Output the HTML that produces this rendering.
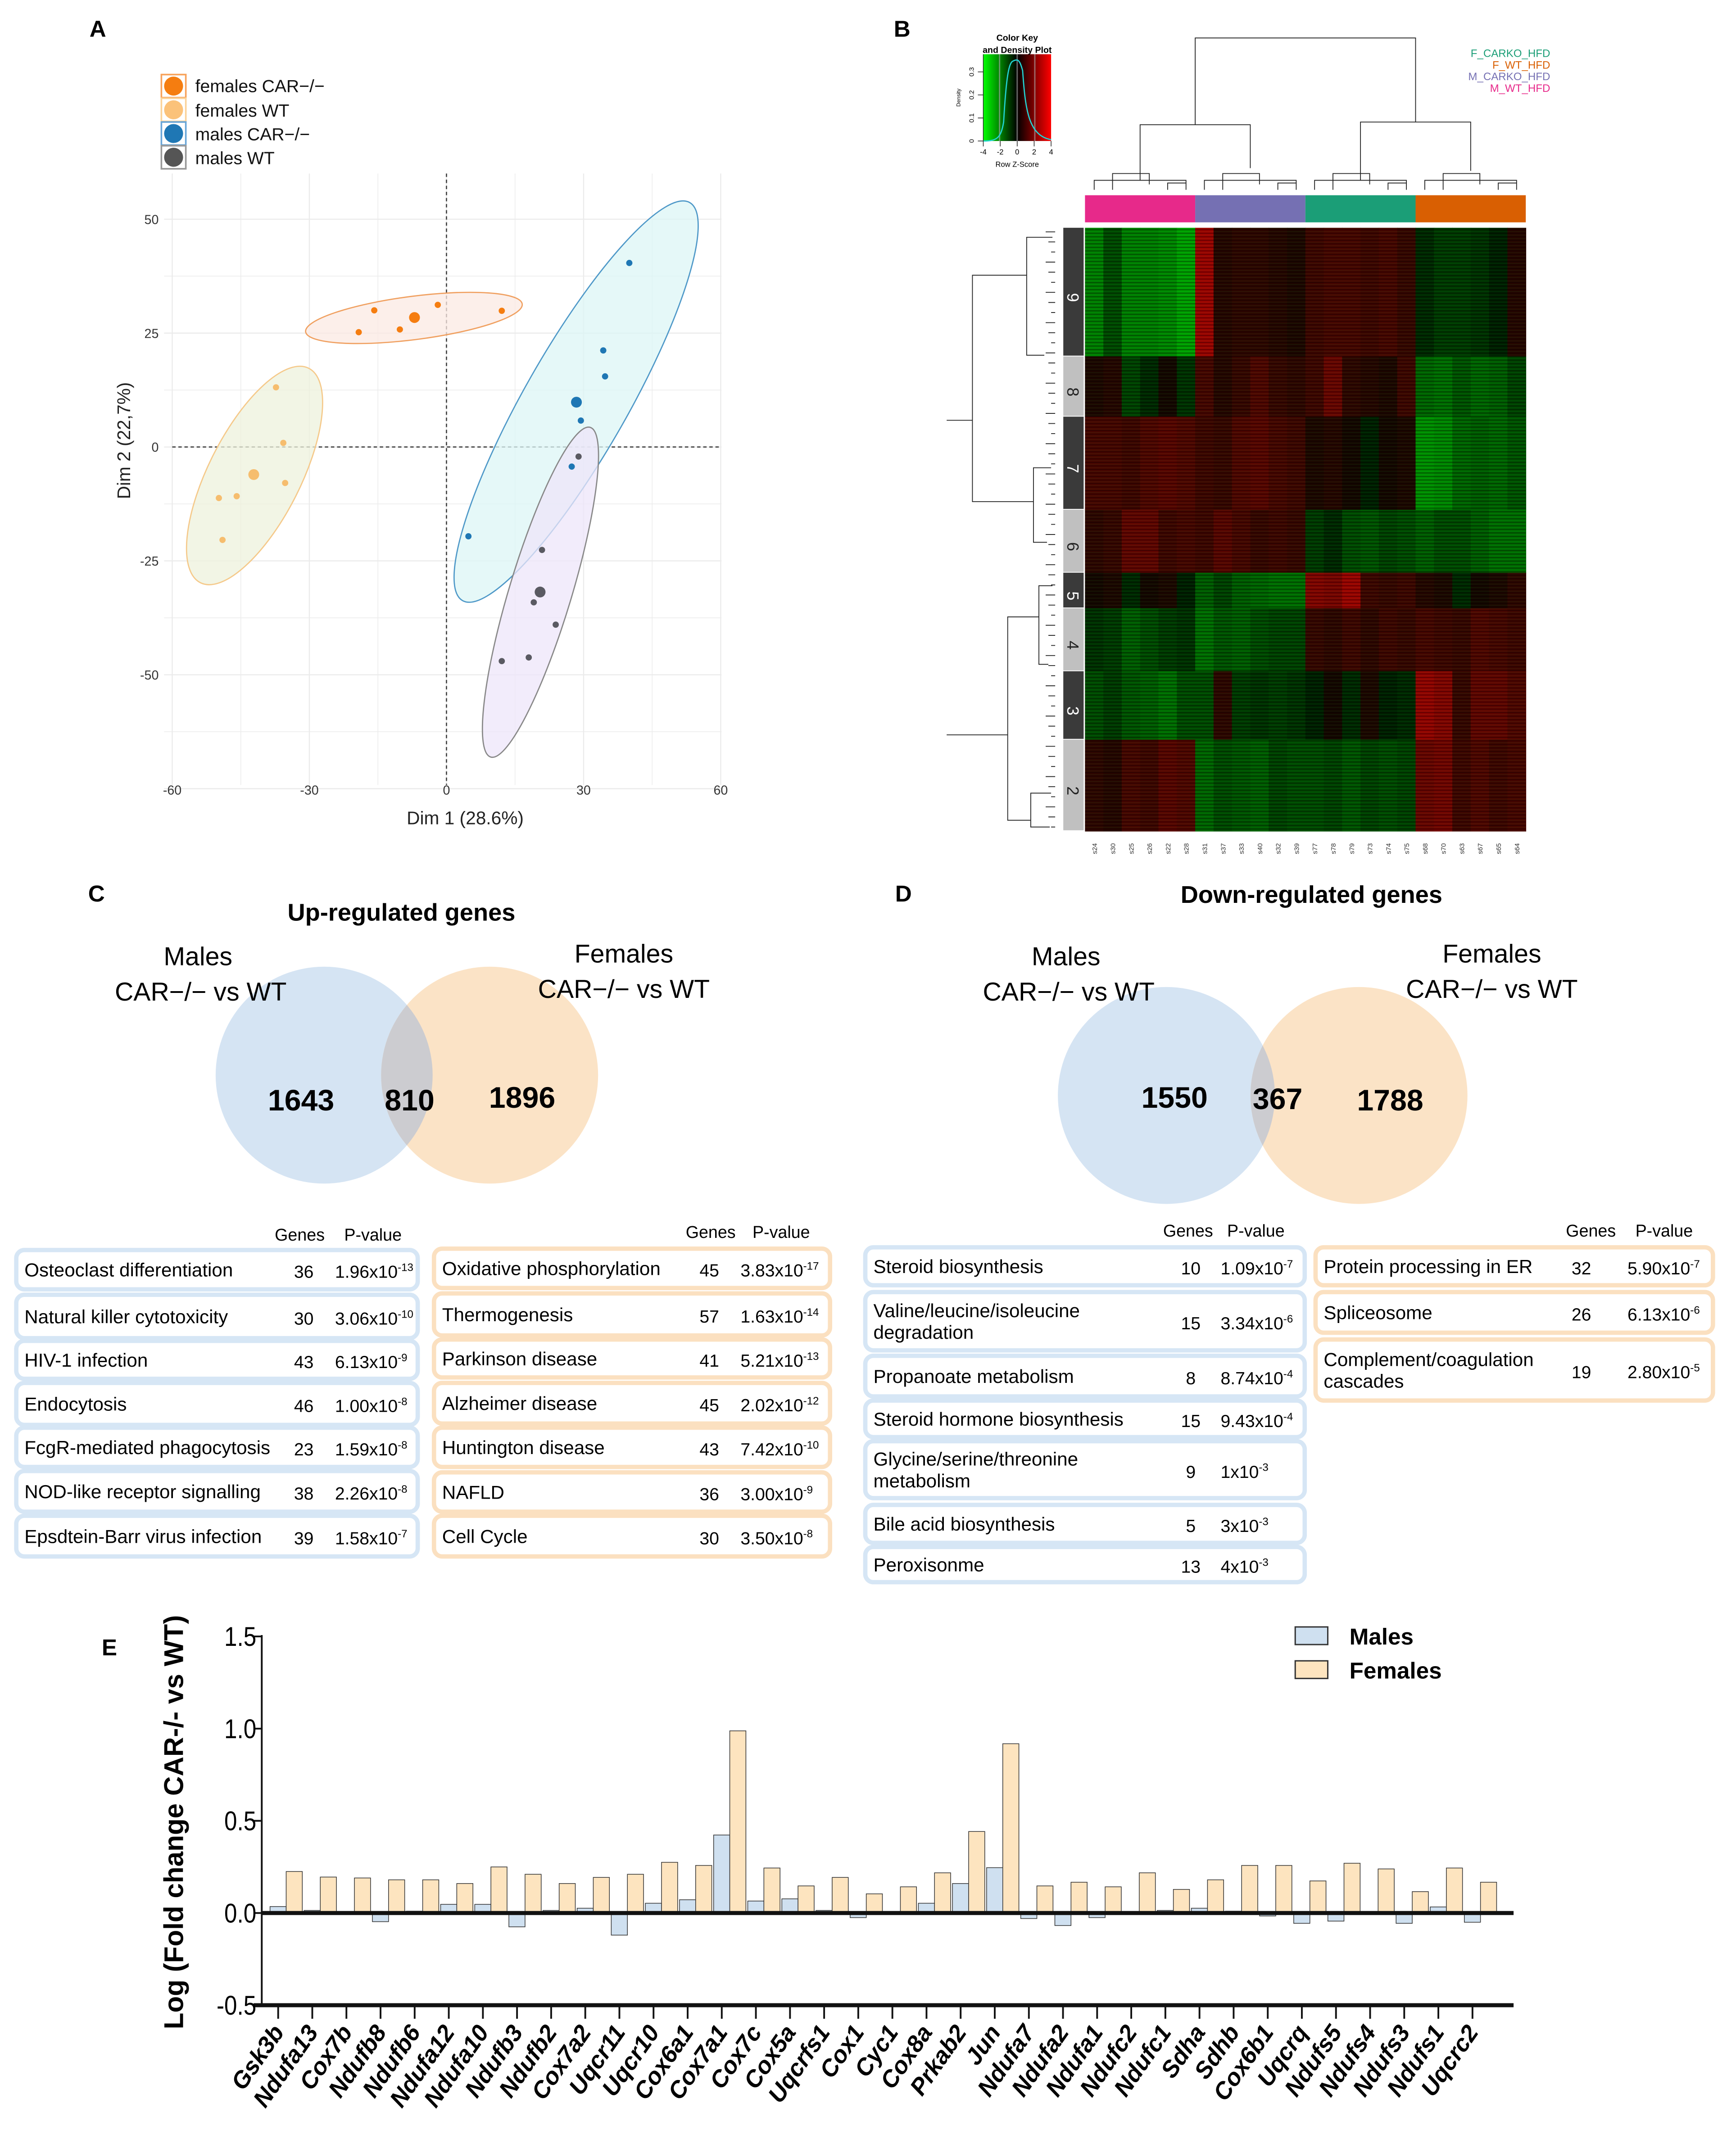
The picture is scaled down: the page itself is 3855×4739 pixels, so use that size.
<!DOCTYPE html>
<html><head><meta charset="utf-8"><style>
html,body{margin:0;padding:0;background:#fff;}
svg{display:block;font-family:"Liberation Sans",sans-serif;}
</style></head><body>
<svg id="fig" xmlns="http://www.w3.org/2000/svg" width="3855" height="4739" viewBox="0 0 1280 1574" preserveAspectRatio="none">
<defs>
<pattern id="stripes" width="4" height="2.6" patternUnits="userSpaceOnUse">
<rect x="0" y="0" width="4" height="0.9" fill="#000" opacity="0.35"/>
<rect x="0" y="1.6" width="4" height="0.5" fill="#0a3" opacity="0.12"/>
</pattern>
<linearGradient id="keygrad" x1="0" x2="1" y1="0" y2="0">
<stop offset="0" stop-color="#00ff00"/><stop offset="0.5" stop-color="#000"/><stop offset="1" stop-color="#ff0000"/>
</linearGradient>
<clipPath id="clipUpL"><circle cx="239" cy="793" r="80"/></clipPath>
<clipPath id="clipDnL"><circle cx="860" cy="808" r="80"/></clipPath>
</defs>
<g font-weight="bold" font-size="17">
<text x="66" y="27">A</text>
<text x="659" y="27">B</text>
<text x="65" y="665">C</text>
<text x="660" y="665">D</text>
<text x="75" y="1221">E</text>
</g>

<g font-size="13" fill="#111">
<rect x="119" y="55" width="18" height="17" fill="none" stroke="#f7a35c" stroke-width="1.2"/>
<circle cx="128" cy="63.5" r="7" fill="#f57d10"/>
<text x="144" y="68">females CAR−/−</text>
<rect x="119" y="72.5" width="18" height="17" fill="none" stroke="#fbd39a" stroke-width="1.2"/>
<circle cx="128" cy="81" r="7" fill="#fbc27a"/>
<text x="144" y="86">females WT</text>
<rect x="119" y="90" width="18" height="17" fill="none" stroke="#6aa6d8" stroke-width="1.2"/>
<circle cx="128" cy="98.5" r="7" fill="#1f77b4"/>
<text x="144" y="103.5">males CAR−/−</text>
<rect x="119" y="107.5" width="18" height="17" fill="none" stroke="#999" stroke-width="1.2"/>
<circle cx="128" cy="116" r="7" fill="#555"/>
<text x="144" y="121">males WT</text>
</g>
<g id="pca"></g>
<g id="heat"></g>

<g>
<circle cx="239" cy="793" r="80" fill="#d5e4f3"/>
<circle cx="361" cy="793" r="80" fill="#fbe3c6"/>
<circle cx="361" cy="793" r="80" fill="#ccccd0" clip-path="url(#clipUpL)"/>
<text x="296" y="679" text-anchor="middle" font-weight="bold" font-size="18">Up-regulated genes</text>
<text x="146" y="712" text-anchor="middle" font-size="19">Males</text>
<text x="148" y="738" text-anchor="middle" font-size="19">CAR−/− vs WT</text>
<text x="460" y="710" text-anchor="middle" font-size="19">Females</text>
<text x="460" y="736" text-anchor="middle" font-size="19">CAR−/− vs WT</text>
<text x="222" y="819" text-anchor="middle" font-weight="bold" font-size="22">1643</text>
<text x="302" y="819" text-anchor="middle" font-weight="bold" font-size="22">810</text>
<text x="385" y="817" text-anchor="middle" font-weight="bold" font-size="22">1896</text>
</g>
<g>
<circle cx="860" cy="808" r="80" fill="#d5e4f3"/>
<circle cx="1002" cy="808" r="80" fill="#fbe3c6"/>
<circle cx="1002" cy="808" r="80" fill="#ccccd0" clip-path="url(#clipDnL)"/>
<text x="967" y="666" text-anchor="middle" font-weight="bold" font-size="18">Down-regulated genes</text>
<text x="786" y="712" text-anchor="middle" font-size="19">Males</text>
<text x="788" y="738" text-anchor="middle" font-size="19">CAR−/− vs WT</text>
<text x="1100" y="710" text-anchor="middle" font-size="19">Females</text>
<text x="1100" y="736" text-anchor="middle" font-size="19">CAR−/− vs WT</text>
<text x="866" y="817" text-anchor="middle" font-weight="bold" font-size="22">1550</text>
<text x="942" y="818" text-anchor="middle" font-weight="bold" font-size="22">367</text>
<text x="1025" y="819" text-anchor="middle" font-weight="bold" font-size="22">1788</text>
</g>
<g id="tables" font-size="14"></g>
<g id="bars"></g>

<script>
const NS='http://www.w3.org/2000/svg';
function mk(tag,attrs,parent){const e=document.createElementNS(NS,tag);for(const k in attrs)e.setAttribute(k,attrs[k]);parent.appendChild(e);return e;}

const femCarX=[-19.2,-15.8,-10.2,-1.9,12.1];
const femCarY=[25.2,30.0,25.8,31.2,29.9];
const femWtX=[-37.3,-35.7,-35.3,-49.8,-45.9,-49.0];
const femWtY=[13.1,0.9,-7.9,-11.2,-10.8,-20.4];
const maleCarX=[40.0,34.3,34.7,29.4,27.4,4.8];
const maleCarY=[40.4,21.2,15.5,5.8,-4.3,-19.6];
const maleWtX=[28.9,20.9,19.1,23.9,18.0,12.1];
const maleWtY=[-2.1,-22.6,-34.1,-39.0,-46.2,-47.0];
const pcaXTicks=[-60,-30,0,30,60];
const pcaYTicks=[50,25,0,-25,-50];
function px(v){return 329.2+3.37*v;}
function py(v){return 329.7-3.36*v;}
(function(){
const g=document.getElementById('pca');
for(let v=-60;v<=60;v+=15){mk('line',{x1:px(v),x2:px(v),y1:128,y2:579,stroke:'#ebebeb','stroke-width':v%30===0?0.8:0.5},g);}
for(let v=-75;v<=50;v+=12.5){mk('line',{x1:121,x2:532,y1:py(v),y2:py(v),stroke:'#ebebeb','stroke-width':v%25===0?0.8:0.5},g);}
mk('line',{x1:px(0),x2:px(0),y1:128,y2:579,stroke:'#444','stroke-width':0.9,'stroke-dasharray':'2.5,2'},g);
mk('line',{x1:127,x2:532,y1:py(0),y2:py(0),stroke:'#444','stroke-width':0.9,'stroke-dasharray':'2.5,2'},g);
const ell=[[305.2,234.5,80.5,16,-7.3,'#fbe9e3','#f0a060'],[187.7,350.7,88.6,34,-63.2,'#eef2dc','#f5c98a'],[424.8,296.2,169,38,-60.3,'#dcf5f5','#4e98c8'],[398.5,436.8,127,23,-73.2,'#ede6fa','#888']];
const en=['ellipse-females-car','ellipse-females-wt','ellipse-males-car','ellipse-males-wt'];
ell.forEach((e,i)=>{const el=mk('ellipse',{cx:e[0],cy:e[1],rx:e[2],ry:e[3],transform:`rotate(${e[4]} ${e[0]} ${e[1]})`,fill:e[5],'fill-opacity':0.75,stroke:e[6],'stroke-width':0.9},g);

});
const groups=[[femCarX,femCarY,'#f57d10','females-car'],[femWtX,femWtY,'#f6bd6e','females-wt'],[maleCarX,maleCarY,'#1f77b4','males-car'],[maleWtX,maleWtY,'#5a5a62','males-wt']];
groups.forEach(gr=>{let sx=0,sy=0;gr[0].forEach((x,i)=>{sx+=x;sy+=gr[1][i];
const c=mk('circle',{cx:px(x),cy:py(gr[1][i]),r:2.3,fill:gr[2]},g);

});
const n=gr[0].length;const c=mk('circle',{cx:px(sx/n),cy:py(sy/n),r:4,fill:gr[2]},g);

});
pcaXTicks.forEach(v=>{const t=mk('text',{x:px(v),y:586,'text-anchor':'middle','font-size':9.5,fill:'#333'},g);t.textContent=v;

});
pcaYTicks.forEach(v=>{const t=mk('text',{x:117,y:py(v)+3.5,'text-anchor':'end','font-size':9.5,fill:'#333'},g);t.textContent=v;

});
let t=mk('text',{x:343,y:608,'text-anchor':'middle','font-size':13.5,fill:'#222'},g);t.textContent='Dim 1 (28.6%)';


t=mk('text',{x:0,y:0,'text-anchor':'middle','font-size':13.5,fill:'#222',transform:'translate(96,325) rotate(-90)'},g);t.textContent='Dim 2 (22,7%)';


})();

const samples=['s24','s30','s25','s26','s22','s28','s31','s37','s33','s40','s32','s39','s77','s78','s79','s73','s74','s75','s68','s70','s63','s67','s65','s64'];
const clusterLabels=['9','8','7','6','5','4','3','2'];
const clusterSizes=[235,110,170,115,65,115,125,167];
const band9=[-1.2,-0.6,-1.2,-1.2,-1.3,-1.6,1.6,0.2,0.3,0.3,0.2,0.1,0.5,0.6,0.6,0.5,0.6,0.4,-0.2,-0.4,-0.4,-0.3,-0.1,0.2];
const band8=[0.1,0.2,-0.5,-0.2,0.0,-0.3,0.6,0.2,0.4,0.7,0.4,0.3,0.5,1.0,0.3,0.2,0.1,0.5,-0.9,-1.0,-0.7,-0.9,-0.8,-0.5];
const band7=[0.6,0.6,0.5,0.7,0.8,0.7,0.5,0.4,0.7,0.8,0.6,0.5,0.1,0.2,0.0,-0.1,0.0,0.1,-1.4,-1.3,-0.9,-0.8,-0.9,-0.7];
const band6=[0.3,0.4,0.9,0.9,0.5,0.6,0.5,0.8,0.6,0.4,0.5,0.4,-0.4,-0.2,-0.6,-0.7,-0.5,-0.6,-0.8,-0.6,-0.6,-0.8,-1.0,-1.0];
const band5=[0.0,0.1,-0.2,0.0,0.1,-0.1,-0.8,-0.5,-0.8,-0.9,-1.0,-1.0,1.3,1.2,1.6,0.5,0.4,0.5,0.2,0.1,-0.2,0.0,0.1,0.3];
const band4=[-0.3,-0.4,-0.8,-0.6,-0.4,-0.3,-1.0,-0.7,-0.8,-0.6,-0.5,-0.5,0.4,0.3,0.5,0.3,0.5,0.4,0.6,0.5,0.4,0.7,0.6,0.5];
const band3=[-0.6,-0.4,-0.7,-0.8,-1.0,-0.6,-0.6,0.3,-0.4,-0.3,-0.4,-0.3,-0.1,0.0,-0.2,0.1,-0.1,-0.2,1.5,1.3,0.4,0.9,0.9,0.7];
const band2=[0.3,0.2,0.6,0.5,0.8,0.7,-0.9,-0.6,-0.7,-0.8,-0.5,-0.6,-0.6,-0.5,-0.7,-0.5,-0.6,-0.5,1.0,1.1,0.5,0.7,0.5,0.6];
const bands=[band9,band8,band7,band6,band5,band4,band3,band2];
const groupNames=['M_WT_HFD','M_CARKO_HFD','F_CARKO_HFD','F_WT_HFD'];
const groupColors=['#e7298a','#7570b3','#1b9e77','#d95f02'];
function zcol(z){const t=Math.min(1,Math.abs(z)/1.8);const v=Math.round(22+160*t);return z>=0?`rgb(${v},${Math.round(6*(1-t))},0)`:`rgb(0,${v},0)`;}
(function(){
const g=document.getElementById('heat');
const X0=800,X1=1125,Y0=168,Y1=613;const cw=(X1-X0)/samples.length;
const total=clusterSizes.reduce((a,b)=>a+b,0);
let y=Y0;
bands.forEach((b,bi)=>{const h=clusterSizes[bi]/total*(Y1-Y0);
b.forEach((z,ci)=>{const r=mk('rect',{x:X0+ci*cw,y:y,width:cw+0.3,height:h+0.3,fill:zcol(z)},g);

});
const sb=mk('rect',{x:784,y:y,width:15,height:h-0.6,fill:bi%2===0?'#3a3a3a':'#c0c0c0'},g);


const lt=mk('text',{x:0,y:0,'font-size':12,fill:bi%2===0?'#fff':'#222','text-anchor':'middle',transform:`translate(787,${y+h/2+4}) rotate(90)`},g);lt.textContent=clusterLabels[bi];


y+=h;});
mk('rect',{x:X0,y:Y0,width:X1-X0,height:Y1-Y0,fill:'url(#stripes)'},g);
groupColors.forEach((c,i)=>{const r=mk('rect',{x:X0+i*6*cw,y:144,width:6*cw,height:20,fill:c},g);

});
samples.forEach((s,i)=>{const t=mk('text',{x:0,y:0,'font-size':5,fill:'#333',transform:`translate(${X0+(i+0.5)*cw+2},630) rotate(-90)`},g);t.textContent=s;

});
const cx=i=>X0+(i+0.5)*cw;
let d='';
for(let gi=0;gi<4;gi++){const a=cx(gi*6),b=cx(gi*6+5);
d+=`M${a} 140V133H${b}V140 M${cx(gi*6+1)} 140V128H${cx(gi*6+3)}V136 M${cx(gi*6+4)} 140V135H${cx(gi*6+5)}`;}
const m0=(cx(0)+cx(5))/2,m1=(cx(6)+cx(11))/2,m2=(cx(12)+cx(17))/2,m3=(cx(18)+cx(23))/2;
d+=`M${m0} 133V92H${m1}V124 M${m2} 133V90H${m3}V126 M${(m0+m1)/2} 92V28H${(m2+m3)/2}V90`;
mk('path',{d:d,fill:'none',stroke:'#222','stroke-width':0.6},g);
let ld='M698 310H717V203H757 M717 310V370H762 M698 542H743V455H766 M743 542V605H760 M757 203V175H776 M757 203V262H770 M762 370V345H775 M762 370V400H772 M766 455V432H776 M766 455V490H773 M760 605V585H775 M760 605V610H774';
for(let i=0;i<60;i++){const yy=Y0+3+i*(Y1-Y0-6)/59;ld+=`M${771+(i%3)*2} ${yy}H778`;}
mk('path',{d:ld,fill:'none',stroke:'#222','stroke-width':0.6},g);
mk('rect',{x:725,y:40,width:50,height:64,fill:'url(#keygrad)'},g);
mk('path',{d:'M737 40V104M750 40V104M763 40V104',stroke:'#aaa','stroke-width':1,opacity:0.6},g);
mk('path',{d:'M725 104C735 104 738 102 740 90C742 55 744 46 747 45C751 43 752 45 754 52C756 80 758 100 775 103',fill:'none',stroke:'#22d3d3','stroke-width':0.9},g);
mk('path',{d:'M725 104V108M737.5 104V108M750 104V108M762.5 104V108M775 104V108M725 104V40M725 104H721M725 87H721M725 70H721M725 53H721',stroke:'#222','stroke-width':0.5,fill:'none'},g);
[['-4',725],['-2',737.5],['0',750],['2',762.5],['4',775]].forEach(k=>{const t=mk('text',{x:k[1],y:114,'font-size':5.5,'text-anchor':'middle'},g);t.textContent=k[0];});
let t=mk('text',{x:750,y:123,'font-size':5.5,'text-anchor':'middle'},g);t.textContent='Row Z-Score';
t=mk('text',{x:750,y:30,'font-size':6.5,'font-weight':'bold','text-anchor':'middle'},g);t.textContent='Color Key';


t=mk('text',{x:750,y:39,'font-size':6.5,'font-weight':'bold','text-anchor':'middle'},g);t.textContent='and Density Plot';
[['0',104],['0.1',87],['0.2',70],['0.3',53]].forEach(k=>{const q=mk('text',{x:0,y:0,'font-size':5,'text-anchor':'middle',transform:`translate(718,${k[1]}) rotate(-90)`},g);q.textContent=k[0];});
t=mk('text',{x:0,y:0,'font-size':4,'text-anchor':'middle',transform:'translate(708,72) rotate(-90)'},g);t.textContent='Density';
const legOrder=[2,3,1,0];
legOrder.forEach((gi,i)=>{const q=mk('text',{x:1143,y:42+i*8.6,'font-size':8,'text-anchor':'end',fill:groupColors[gi]},g);q.textContent=groupNames[gi];

});
})();

const upMalesPath=['Osteoclast differentiation','Natural killer cytotoxicity','HIV-1 infection','Endocytosis','FcgR-mediated phagocytosis','NOD-like receptor signalling','Epsdtein-Barr virus infection'];
const upMalesGenes=[36,30,43,46,23,38,39];
const upMalesP=[['1.96x10','-13'],['3.06x10','-10'],['6.13x10','-9'],['1.00x10','-8'],['1.59x10','-8'],['2.26x10','-8'],['1.58x10','-7']];
const upFemPath=['Oxidative phosphorylation','Thermogenesis','Parkinson disease','Alzheimer disease','Huntington disease','NAFLD','Cell Cycle'];
const upFemGenes=[45,57,41,45,43,36,30];
const upFemP=[['3.83x10','-17'],['1.63x10','-14'],['5.21x10','-13'],['2.02x10','-12'],['7.42x10','-10'],['3.00x10','-9'],['3.50x10','-8']];
const dnMalesPath=[['Steroid biosynthesis'],['Valine/leucine/isoleucine','degradation'],['Propanoate metabolism'],['Steroid hormone biosynthesis'],['Glycine/serine/threonine','metabolism'],['Bile acid biosynthesis'],['Peroxisonme']];
const dnMalesGenes=[10,15,8,15,9,5,13];
const dnMalesP=[['1.09x10','-7'],['3.34x10','-6'],['8.74x10','-4'],['9.43x10','-4'],['1x10','-3'],['3x10','-3'],['4x10','-3']];
const dnFemPath=[['Protein processing in ER'],['Spliceosome'],['Complement/coagulation','cascades']];
const dnFemGenes=[32,26,19];
const dnFemP=[['5.90x10','-7'],['6.13x10','-6'],['2.80x10','-5']];
(function(){
const g=document.getElementById('tables');
function table(x0,x1,rows,paths,genes,ps,col,gx,pxp,hy,hx1,hx2,name){
 let h=mk('text',{x:hx1,y:hy,'font-size':12.5,'text-anchor':'middle'},g);h.textContent='Genes';
 h=mk('text',{x:hx2,y:hy,'font-size':12.5,'text-anchor':'middle'},g);h.textContent='P-value';
 rows.forEach((r,i)=>{const b=mk('rect',{x:x0,y:r[0],width:x1-x0,height:r[1]-r[0],rx:6,fill:'#fff',stroke:col,'stroke-width':3.2},g);
 
 
 const p=Array.isArray(paths[i])?paths[i]:[paths[i]];const mid=(r[0]+r[1])/2;
 p.forEach((s,k)=>{const t=mk('text',{x:x0+6,y:mid+5+(p.length>1?(k-0.5)*16:0),'font-size':14},g);t.textContent=s;});
 let t=mk('text',{x:gx,y:mid+6,'font-size':13,'text-anchor':'middle'},g);t.textContent=genes[i];
 t=mk('text',{x:pxp,y:mid+6,'font-size':13},g);t.textContent=ps[i][0];
 const ts=mk('tspan',{dy:-5,'font-size':8},t);ts.textContent=ps[i][1];});}
table(12,308,[[922,951],[955,987],[989,1017],[1020,1051],[1053,1082],[1085,1115],[1118,1148]],upMalesPath,upMalesGenes,upMalesP,'#d6e6f5',224,247,915,221,275,'up-males');
table(320,612,[[921,950],[954,985],[988,1016],[1020,1050],[1053,1082],[1086,1115],[1118,1148]],upFemPath,upFemGenes,upFemP,'#fbe0c0',523,546,913,524,576,'up-females');
table(638,962,[[920,948],[953,996],[1000,1030],[1033,1060],[1063,1105],[1110,1138],[1141,1167]],dnMalesPath,dnMalesGenes,dnMalesP,'#d6e6f5',878,900,912,876,926,'down-males');
table(970,1263,[[920,948],[953,983],[988,1033]],dnFemPath,dnFemGenes,dnFemP,'#fbe0c0',1166,1200,912,1173,1227,'down-females');
})();

const genes=['Gsk3b','Ndufa13','Cox7b','Ndufb8','Ndufb6','Ndufa12','Ndufa10','Ndufb3','Ndufb2','Cox7a2','Uqcr11','Uqcr10','Cox6a1','Cox7a1','Cox7c','Cox5a','Uqcrfs1','Cox1','Cyc1','Cox8a','Prkab2','Jun','Ndufa7','Ndufa2','Ndufa1','Ndufc2','Ndufc1','Sdha','Sdhb','Cox6b1','Uqcrq','Ndufs5','Ndufs4','Ndufs3','Ndufs1','Uqcrc2'];
const malesVals=[0.035,0.014,0.0,-0.047,0.01,0.047,0.047,-0.075,0.014,0.026,-0.12,0.053,0.072,0.423,0.065,0.077,0.014,-0.025,0.007,0.053,0.16,0.246,-0.03,-0.068,-0.025,0.0,0.014,0.026,0.01,-0.016,-0.056,-0.044,0.0,-0.056,0.033,-0.05];
const femalesVals=[0.225,0.195,0.19,0.18,0.18,0.16,0.25,0.21,0.16,0.193,0.21,0.275,0.258,0.988,0.244,0.147,0.193,0.104,0.142,0.218,0.442,0.918,0.147,0.167,0.142,0.218,0.128,0.18,0.258,0.258,0.174,0.27,0.239,0.116,0.244,0.167];
const yTicks=[1.5,1.0,0.5,0.0,-0.5];
function by(v){return 1411-136*v;}
function bx(i){return 205.1+25.16*i;}
(function(){
const g=document.getElementById('bars');
genes.forEach((gn,i)=>{const c=bx(i);
 const m=malesVals[i];const rm=mk('rect',{x:c-6,y:Math.min(by(m),by(0)),width:11.9,height:Math.abs(by(m)-by(0)),fill:'#cfe0f0',stroke:'#333','stroke-width':0.5},g);
 
 
 const f=femalesVals[i];const rf=mk('rect',{x:c+5.9,y:Math.min(by(f),by(0)),width:11.9,height:Math.abs(by(f)-by(0)),fill:'#fde4bf',stroke:'#333','stroke-width':0.5},g);
 
 
 mk('line',{x1:c,x2:c,y1:1478,y2:1489,stroke:'#111','stroke-width':1.3},g);
 const t=mk('text',{x:0,y:0,'font-size':17.5,'font-weight':'bold','font-style':'italic','text-anchor':'end',transform:`translate(${c+5},1499) rotate(-55)`},g);t.textContent=gn;
 
 });
mk('line',{x1:193,x2:193,y1:1206,y2:1479,stroke:'#111','stroke-width':1.3},g);
mk('line',{x1:193,x2:1116,y1:by(0),y2:by(0),stroke:'#111','stroke-width':3},g);
mk('line',{x1:187,x2:1116,y1:by(-0.5),y2:by(-0.5),stroke:'#111','stroke-width':3},g);
yTicks.forEach(v=>{mk('line',{x1:187,x2:193,y1:by(v),y2:by(v),stroke:'#111','stroke-width':1.3},g);
 const t=mk('text',{x:189,y:by(v)+7,'font-size':20,'text-anchor':'end',transform:`translate(${189*0.15},0) scale(0.85,1)`},g);t.textContent=v.toFixed(1);
 
 });
let t=mk('text',{x:0,y:0,'font-size':20,'font-weight':'bold','text-anchor':'middle',transform:'translate(135,1344) rotate(-90)'},g);t.textContent='Log (Fold change CAR-/- vs WT)';


const lg=[['Males','#cfe0f0',1200],['Females','#fde4bf',1225]];
lg.forEach(l=>{const r=mk('rect',{x:955,y:l[2],width:24,height:13,fill:l[1],stroke:'#333','stroke-width':1},g);
 
 
 const q=mk('text',{x:995,y:l[2]+13,'font-size':17,'font-weight':'bold'},g);q.textContent=l[0];
 
 });
})();
</script>
</svg>
</body></html>
